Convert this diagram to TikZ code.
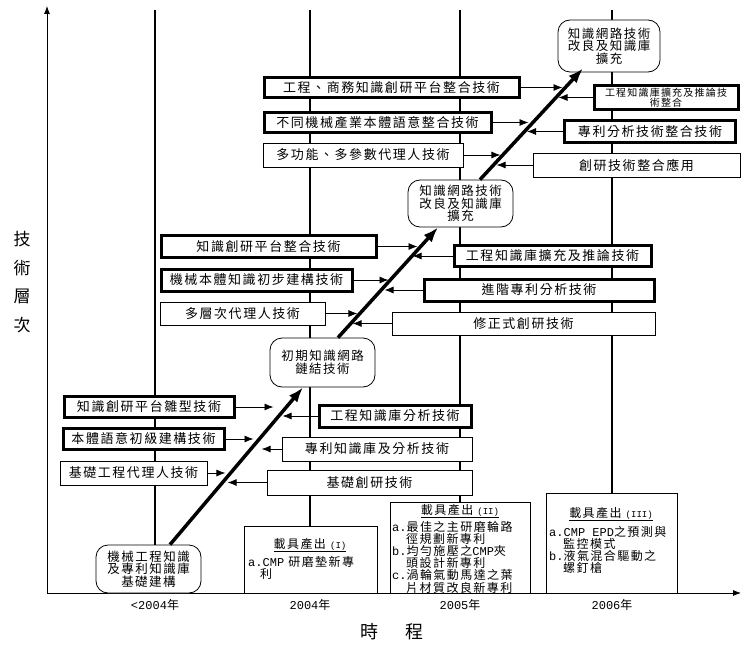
\documentclass[tikz,border=0pt]{standalone}
\usepackage{fontspec}
\setmainfont{Noto Sans CJK TC}[LetterSpace=12]
\newfontfamily\mono{Liberation Mono}
\usetikzlibrary{arrows.meta}

\begin{document}
\begin{tikzpicture}[x=1pt,y=-1pt,
		plain box/.style={draw,line width=0.8pt,fill=white,inner sep=2pt,font=\fontsize{13}{13}\selectfont},
		heavy box/.style={plain box,line width=3pt},
		round box/.style={draw,line width=0.8pt,fill=white,rounded corners=12pt,align=center,inner sep=2pt,font=\fontsize{12.5}{11}\selectfont},
		output box/.style={draw,line width=0.8pt,fill=white,inner sep=0pt},
		output list/.style={align=left,inner sep=0pt,font=\fontsize{12}{10.3}\selectfont},
		feed/.style={-{Latex[length=9pt,width=7pt]},line width=0.8pt},
		rise/.style={-{Latex[length=15pt,width=11pt]},line width=3.5pt},
		axis/.style={-{Latex[length=8pt,width=6pt]},line width=0.8pt},
		timeline/.style={line width=2.5pt}
		]
		
		\useasboundingbox (0,0) rectangle (743,655);
		
		% time lines and years
		\foreach \x/\lab [count=\i] in {155/{\mono <2004}年,310/{\mono 2004}年,460/{\mono 2005}年,612/{\mono 2006}年} {
			\draw[timeline] (\x,10) -- (\x,593);
			\node[font=\fontsize{12}{12}\selectfont] at (\x,605) (yr\i) {\lab};
		}
		
		\coordinate (O) at (47,593);
		\coordinate (Ytop) at (47,6);
		\coordinate (Xend) at (741,593);
		\draw[axis] (O) -- (Ytop);
		\draw[axis] (O) -- (Xend);
		
		\node[font=\fontsize{17}{28.5}\selectfont,align=center] at (22,282) (ylab) {技\\術\\層\\次};
		\node[font=\fontsize{18}{18}\selectfont] at (392,632) (xlab) {時\hspace{28pt}程};
		
		% outputs
		\node[output box,minimum width=133pt,minimum height=67pt] at (310.5,559.5) (o1) {};
		\node[font=\fontsize{12}{12}\selectfont] at (310,545) (o1t) {\underline{載具產出 {\mono\small(I)}}};
		\node[output list,anchor=north west,font=\fontsize{12}{12}\selectfont] at (248,556) (o1l) {{\mono a.CMP} 研磨墊新專\\\hspace*{12pt}利};
		
		\node[output box,minimum width=140pt,minimum height=91pt] at (460,547.5) (o2) {};
		\node[font=\fontsize{12}{12}\selectfont] at (460,511) (o2t) {\underline{載具產出 {\mono\small(II)}}};
		\node[output list,anchor=north west] at (392,521) (o2l) {{\mono a.}最佳之主研磨輪路\\\hspace*{14pt}徑規劃新專利\\{\mono b.}均勻施壓之{\mono CMP}夾\\\hspace*{14pt}頭設計新專利\\{\mono c.}渦輪氣動馬達之葉\\\hspace*{14pt}片材質改良新專利};
		
		\node[output box,minimum width=131pt,minimum height=100pt] at (611.5,543) (o3) {};
		\node[font=\fontsize{12}{12}\selectfont] at (611,514) (o3t) {\underline{載具產出 {\mono\small(III)}}};
		\node[output list,anchor=north west] at (549,526) (o3l) {{\mono a.CMP EPD}之預測與\\\hspace*{14pt}監控模式\\{\mono b.}液氣混合驅動之\\\hspace*{14pt}螺釘槍};
		
		% stages
		\node[round box,minimum width=105pt,minimum height=48pt] at (148.5,569) (k1) {機械工程知識\\及專利知識庫\\基礎建構};
		\node[round box,minimum width=105pt,minimum height=49pt] at (322.5,362.5) (k2) {初期知識網路\\鏈結技術};
		\node[round box,minimum width=105pt,minimum height=47pt] at (460.5,203.5) (k3) {知識網路技術\\改良及知識庫\\擴充};
		\node[round box,minimum width=102pt,minimum height=52pt] at (609,46) (k4) {知識網路技術\\改良及知識庫\\擴充};
		
		% top level
		\node[heavy box,minimum width=255pt,minimum height=20pt] at (391.5,87.5) (gA) {工程、商務知識創研平台整合技術};
		\node[heavy box,minimum width=227pt,minimum height=20pt] at (377.5,122.5) (gB) {不同機械產業本體語意整合技術};
		\node[plain box,minimum width=200pt,minimum height=24pt] at (363,155) (gC) {多功能、多參數代理人技術};
		\node[heavy box,minimum width=144pt,minimum height=20pt,align=center,font=\fontsize{10}{8.5}\selectfont] at (666,97.5) (gD) {工程知識庫擴充及推論技\\術整合};
		\node[heavy box,minimum width=171pt,minimum height=22pt] at (650,131.5) (gE) {專利分析技術整合技術};
		\node[plain box,minimum width=207pt,minimum height=24pt] at (636.5,165) (gF) {創研技術整合應用};
		
		% middle level
		\node[heavy box,minimum width=215pt,minimum height=22pt] at (268.5,246.5) (mA) {知識創研平台整合技術};
		\node[heavy box,minimum width=191pt,minimum height=22pt] at (256.5,280) (mB) {機械本體知識初步建構技術};
		\node[plain box,minimum width=165pt,minimum height=23pt] at (242.5,313.5) (mC) {多層次代理人技術};
		\node[heavy box,minimum width=197pt,minimum height=21pt] at (552.5,256) (mD) {工程知識庫擴充及推論技術};
		\node[heavy box,minimum width=230pt,minimum height=22pt] at (539,290) (mE) {進階專利分析技術};
		\node[plain box,minimum width=263pt,minimum height=23pt] at (523.5,323.5) (mF) {修正式創研技術};
		
		% bottom level
		\node[heavy box,minimum width=170pt,minimum height=21pt] at (149,407) (bA) {知識創研平台雛型技術};
		\node[heavy box,minimum width=161pt,minimum height=21pt] at (143.5,439) (bB) {本體語意初級建構技術};
		\node[plain box,minimum width=147pt,minimum height=24pt] at (133.5,473) (bC) {基礎工程代理人技術};
		\node[heavy box,minimum width=152pt,minimum height=22pt] at (395,416) (bD) {工程知識庫分析技術};
		\node[plain box,minimum width=190pt,minimum height=24pt] at (377,449) (bE) {專利知識庫及分析技術};
		\node[plain box,minimum width=205pt,minimum height=25pt] at (369.5,482.5) (bF) {基礎創研技術};
		
		% feeds into the rising path
		\foreach \n/\dx in {gA/42,gB/36,gC/37,mA/40,mB/35,mC/32,bA/38,bB/28,bC/18} {
			\path ([xshift=\dx pt]\n.east) coordinate (\n t);
			\draw[feed] (\n) -- (\n t);
		}
		\foreach \n/\dx in {gD/34,gE/36,gF/36,mD/40,mE/38,mF/39,bD/35,bE/20,bF/39} {
			\path ([xshift=-\dx pt]\n.west) coordinate (\n t);
			\draw[feed] (\n) -- (\n t);
		}
		
		\draw[rise] ([xshift=21.5pt]k1.north) -- ([xshift=-19.5pt]k2.south);
		\draw[rise] ([xshift=15.5pt]k2.north) -- ([xshift=-22.5pt]k3.south);
		\draw[rise] ([xshift=19.5pt]k3.north) -- ([xshift=-26pt,yshift=4pt]k4.south);
		
	\end{tikzpicture}
\end{document}
